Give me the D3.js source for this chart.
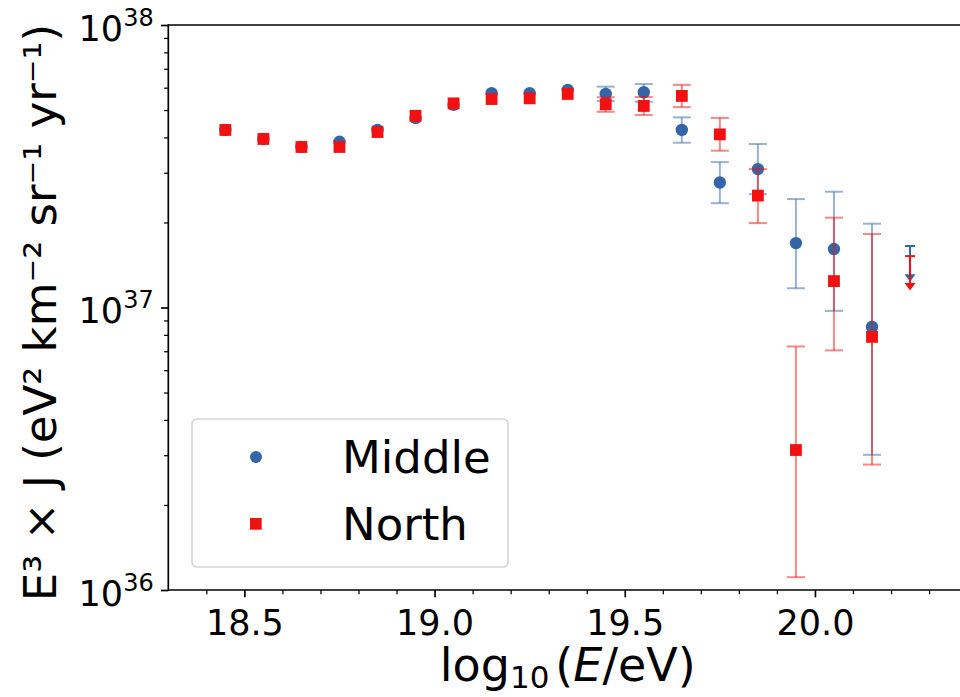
<!DOCTYPE html>
<html>
<head>
<meta charset="utf-8">
<script src="https://cdn.jsdelivr.net/npm/d3@7"></script>
<style>
  html, body { margin: 0; padding: 0; background: #fff; }
  svg { display: block; font-family: "DejaVu Sans", sans-serif; }
</style>
</head>
<body>
<svg id="chart" width="960" height="697"></svg>
<script>
// Bin centres, log10(E/eV)
const energyBins = [18.45, 18.55, 18.65, 18.75, 18.85, 18.95, 19.05, 19.15, 19.25,
                    19.35, 19.45, 19.55, 19.65, 19.75, 19.85, 19.95, 20.05, 20.15];

// E^3 J, eV^2 km^-2 sr^-1 yr^-1
const middleFlux  = [4.25e37, 3.95e37, 3.70e37, 3.86e37, 4.25e37, 4.68e37, 5.22e37, 5.74e37, 5.74e37,
                     5.89e37, 5.70e37, 5.78e37, 4.25e37, 2.77e37, 3.09e37, 1.69e37, 1.61e37, 8.53e36];
const middleUpper = [null, null, null, null, null, null, null, null, null,
                     null, 6.05e37, 6.18e37, 4.71e37, 3.27e37, 3.79e37, 2.42e37, 2.57e37, 1.98e37];
const middleLower = [null, null, null, null, null, null, null, null, null,
                     null, 5.38e37, 5.35e37, 3.83e37, 2.34e37, 2.52e37, 1.17e37, 9.73e36, 3.01e36];

const northFlux   = [4.25e37, 3.95e37, 3.70e37, 3.70e37, 4.18e37, 4.77e37, 5.28e37, 5.47e37, 5.50e37,
                     5.70e37, 5.24e37, 5.17e37, 5.61e37, 4.10e37, 2.49e37, 3.13e36, 1.24e37, 7.87e36];
const northUpper  = [null, null, null, null, null, null, null, null, null,
                     null, 5.55e37, 5.56e37, 6.14e37, 4.69e37, 3.09e37, 7.28e36, 2.08e37, 1.82e37];
const northLower  = [null, null, null, null, null, null, null, null, null,
                     null, 4.93e37, 4.80e37, 5.12e37, 3.59e37, 1.99e37, 1.11e36, 7.05e36, 2.78e36];

// Upper limits in the last bin
const limitEnergy = 20.25;
const middleLimit = 1.31e37, middleLimitCap = 1.65e37;
const northLimit  = 1.22e37, northLimitCap  = 1.52e37;

const xTicks = [18.5, 19.0, 19.5, 20.0];
const xMinorTicks = [18.4, 18.6, 18.7, 18.8, 18.9, 19.1, 19.2, 19.3, 19.4,
                     19.6, 19.7, 19.8, 19.9, 20.1, 20.2, 20.3];
const yTicks = [1e36, 1e37, 1e38];
const yTickExponents = ["36", "37", "38"];
const seriesNames = ["Middle", "North"];

const BLUE = "#3465a8";
const RED = "#f21010";

const svg = d3.select("#chart");
const plotLeft = 168.3, plotTop = 25, plotBottom = 590, plotRight = 967.1;

const x = d3.scaleLinear().domain([18.3, 20.4]).range([plotLeft, plotRight]);
const y = d3.scaleLog().domain([1e36, 1e38]).range([plotBottom, plotTop]);

// ---- axes ----
const AX_W = 1.67;
const xAxis = d3.axisBottom(x).tickValues(xTicks).tickFormat(d3.format(".1f"))
  .tickSizeInner(7.3).tickSizeOuter(0).tickPadding(7);
const gx = svg.append("g").attr("transform", `translate(0,${plotBottom})`).call(xAxis);
gx.select(".domain").remove();
gx.selectAll(".tick line").attr("stroke", "#000").attr("stroke-width", AX_W);
gx.selectAll(".tick text").attr("font-size", 35).attr("fill", "#000")
  .attr("font-family", "DejaVu Sans").attr("dy", null).attr("y", 45);

const gxm = svg.append("g").attr("transform", `translate(0,${plotBottom})`)
  .call(d3.axisBottom(x).tickValues(xMinorTicks).tickFormat("").tickSizeInner(4.2).tickSizeOuter(0));
gxm.select(".domain").remove();
gxm.selectAll(".tick line").attr("stroke", "#000").attr("stroke-width", AX_W * 0.75);

const yMinor = [];
[1e36, 1e37].forEach(d => { for (let k = 2; k <= 9; k++) yMinor.push(d * k); });
const gym = svg.append("g").attr("transform", `translate(${plotLeft},0)`)
  .call(d3.axisLeft(y).tickValues(yMinor).tickFormat("").tickSizeInner(4.2).tickSizeOuter(0));
gym.select(".domain").remove();
gym.selectAll(".tick line").attr("stroke", "#000").attr("stroke-width", AX_W * 0.75);

const gy = svg.append("g").attr("transform", `translate(${plotLeft},0)`)
  .call(d3.axisLeft(y).tickValues(yTicks).tickFormat("").tickSizeInner(7.3).tickSizeOuter(0));
gy.select(".domain").remove();
gy.selectAll(".tick line").attr("stroke", "#000").attr("stroke-width", AX_W);

// power-of-ten labels
yTicks.forEach((d, i) => {
  const t = svg.append("text")
    .attr("x", plotLeft - 14.6)
    .attr("y", y(d) + 15.5)
    .attr("text-anchor", "end")
    .attr("font-size", 35)
    .attr("fill", "#000");
  t.append("tspan").text("10");
  t.append("tspan").attr("dy", -15).attr("font-size", 24).text(yTickExponents[i]);
});

// spines (left, top, bottom; the frame continues past the right edge)
svg.append("line").attr("x1", plotLeft).attr("x2", plotLeft)
  .attr("y1", plotTop - AX_W / 2).attr("y2", plotBottom + AX_W / 2)
  .attr("stroke", "#000").attr("stroke-width", AX_W);
svg.append("line").attr("x1", plotLeft).attr("x2", plotRight).attr("y1", plotTop).attr("y2", plotTop)
  .attr("stroke", "#000").attr("stroke-width", AX_W);
svg.append("line").attr("x1", plotLeft).attr("x2", plotRight).attr("y1", plotBottom).attr("y2", plotBottom)
  .attr("stroke", "#000").attr("stroke-width", AX_W);

// axis titles
const xl = svg.append("text")
  .attr("x", (plotLeft + plotRight) / 2).attr("y", 681)
  .attr("text-anchor", "middle").attr("font-size", 46).attr("fill", "#000");
xl.append("tspan").text("log");
xl.append("tspan").attr("font-size", 31).attr("dy", 7).text("10");
xl.append("tspan").attr("dy", -7).attr("dx", 6).text("(");
xl.append("tspan").attr("font-style", "italic").text("E");
xl.append("tspan").text("/eV)");

svg.append("text")
  .attr("transform", `translate(56,${(plotTop + plotBottom) / 2 + 5}) rotate(-90)`)
  .attr("text-anchor", "middle").attr("font-size", 45).attr("fill", "#000")
  .text("E³ × J (eV² km⁻² sr⁻¹ yr⁻¹)");

// ---- data ----
const CAP = 9, ELW = 2;
function drawSeries(flux, upper, lower, color, shape) {
  const g = svg.append("g");
  energyBins.forEach((e, i) => {
    if (upper[i] == null) return;
    const cx = x(e), y1 = y(upper[i]), y2 = y(lower[i]);
    const eb = g.append("g").attr("stroke", color).attr("stroke-width", ELW).attr("stroke-opacity", 0.5);
    eb.append("line").attr("x1", cx).attr("x2", cx).attr("y1", y1).attr("y2", y2);
    eb.append("line").attr("x1", cx - CAP).attr("x2", cx + CAP).attr("y1", y1).attr("y2", y1);
    eb.append("line").attr("x1", cx - CAP).attr("x2", cx + CAP).attr("y1", y2).attr("y2", y2);
  });
  energyBins.forEach((e, i) => {
    const cx = x(e), cy = y(flux[i]);
    if (shape === "circle") {
      g.append("circle").attr("cx", cx).attr("cy", cy).attr("r", 6.2).attr("fill", color);
    } else {
      g.append("rect").attr("x", cx - 5.9).attr("y", cy - 5.9)
        .attr("width", 11.8).attr("height", 11.8).attr("fill", color);
    }
  });
}

function drawLimit(value, cap, color) {
  const cx = x(limitEnergy), yb = y(value), yc = y(cap);
  const g = svg.append("g");
  g.append("line").attr("x1", cx).attr("x2", cx).attr("y1", yc).attr("y2", yb)
    .attr("stroke", color).attr("stroke-width", ELW);
  g.append("line").attr("x1", cx - 5).attr("x2", cx + 5).attr("y1", yc).attr("y2", yc)
    .attr("stroke", color).attr("stroke-width", ELW);
  g.append("path").attr("d", `M${cx - 5.5},${yb} L${cx + 5.5},${yb} L${cx},${yb + 7.5} Z`).attr("fill", color);
}

drawSeries(middleFlux, middleUpper, middleLower, BLUE, "circle");
drawLimit(middleLimit, middleLimitCap, BLUE);
drawSeries(northFlux, northUpper, northLower, RED, "square");
drawLimit(northLimit, northLimitCap, RED);

// ---- legend ----
const lg = svg.append("g");
lg.append("rect").attr("x", 192).attr("y", 419).attr("width", 316).attr("height", 148)
  .attr("rx", 5).attr("fill", "#fff").attr("fill-opacity", 0.8)
  .attr("stroke", "#d6d6d6").attr("stroke-width", 1.7);
lg.append("circle").attr("cx", 256).attr("cy", 457).attr("r", 6).attr("fill", BLUE);
lg.append("rect").attr("x", 250).attr("y", 518).attr("width", 11.7).attr("height", 11.7).attr("fill", RED);
seriesNames.forEach((name, i) => {
  lg.append("text").attr("x", 342).attr("y", 473 + i * 67)
    .attr("font-size", 45).attr("fill", "#000").text(name);
});
</script>
</body>
</html>
